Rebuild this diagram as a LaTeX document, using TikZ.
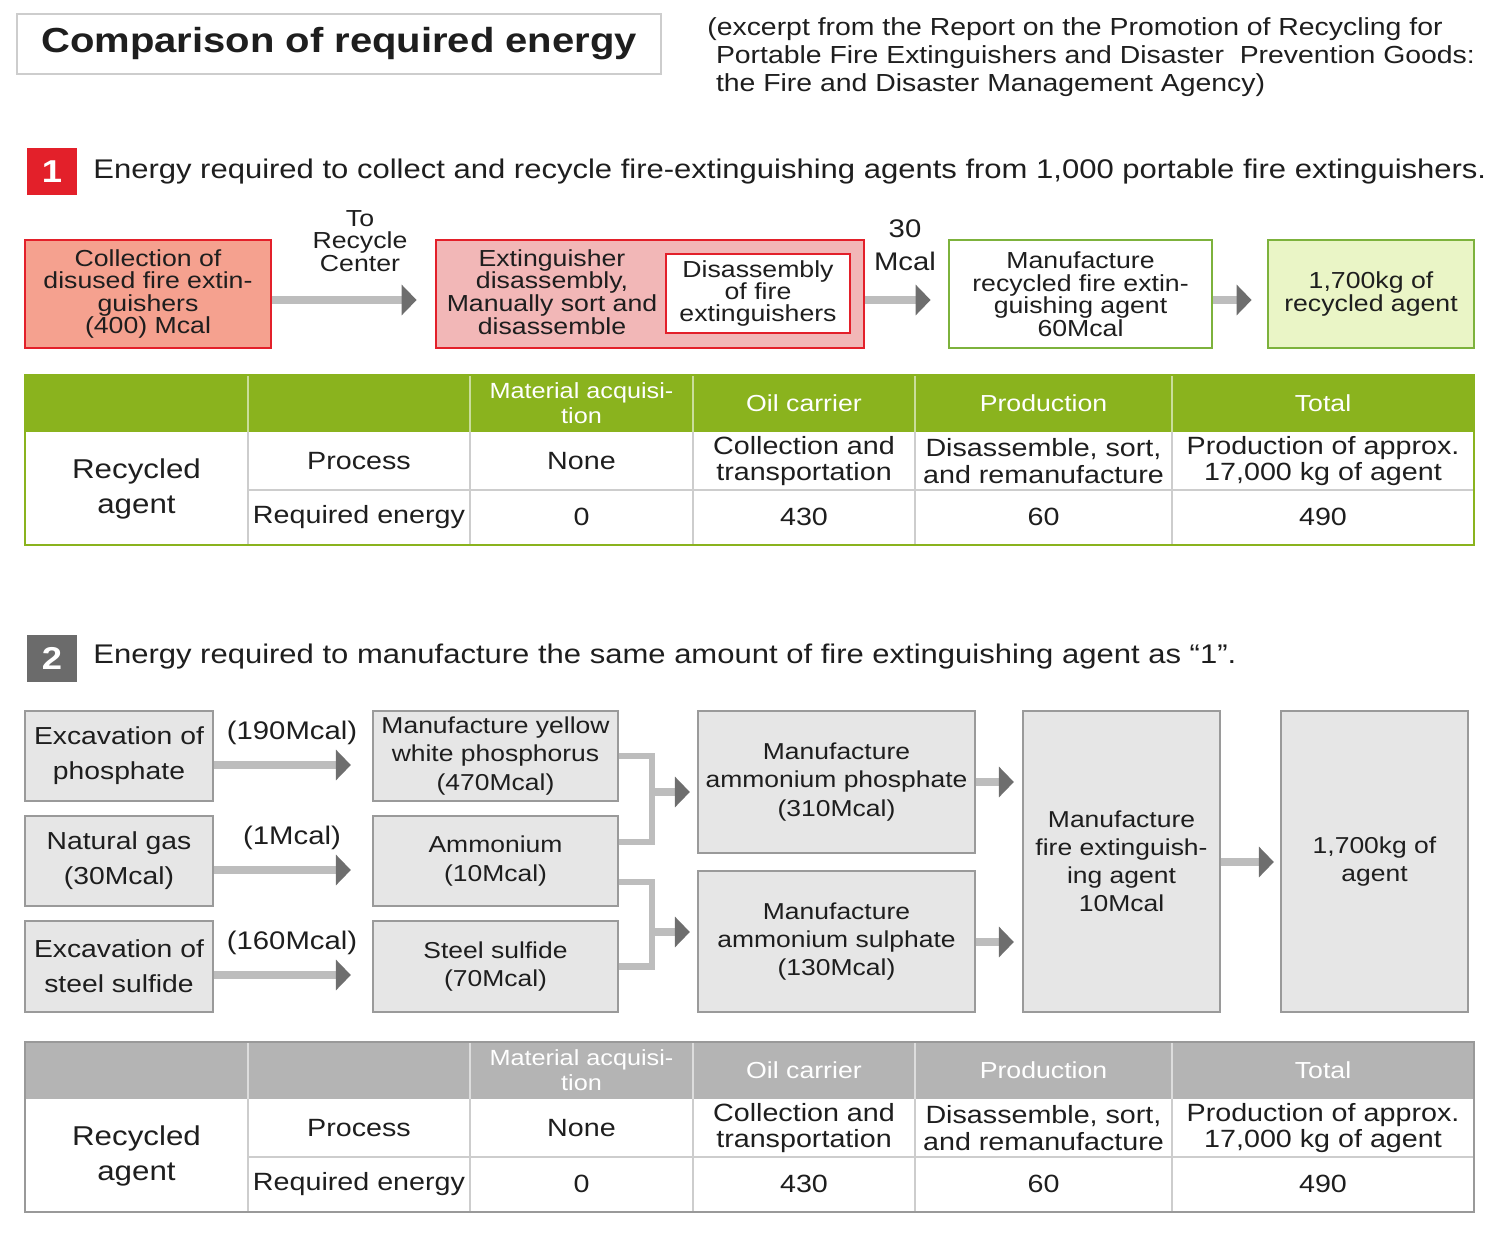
\documentclass[tikz,border=0pt]{standalone}
\usepackage{fontspec}
\setmainfont{Liberation Sans}[FakeStretch=1.15]
\usetikzlibrary{arrows.meta}

\definecolor{inkDark}{HTML}{1E1E1E}
\definecolor{extRed}{HTML}{E3202A}
\definecolor{extSalmon}{HTML}{F5A18F}
\definecolor{extPink}{HTML}{F2B7B7}
\definecolor{extGreen}{HTML}{7DB23C}
\definecolor{extLime}{HTML}{EAF5C6}
\definecolor{tabGreen}{HTML}{8AB31E}
\definecolor{boxGray}{HTML}{E6E6E6}
\definecolor{edgeGray}{HTML}{9A9A9A}
\definecolor{headGray}{HTML}{B4B4B4}
\definecolor{shaftGray}{HTML}{BDBDBD}
\definecolor{tipGray}{HTML}{6E6E6E}
\definecolor{ruleGray}{HTML}{CDCDCD}
\definecolor{numGray}{HTML}{6B6B6B}

\newcommand{\setfs}[2]{\fontsize{#1}{#2}\selectfont}

% one energy table: name prefix, top edge, header colour, frame colour
\newcommand{\energytable}[4]{%
  \begin{scope}[shift={(0,#2)}]
    % header band
    \fill[#3] (25,0) rectangle (1474,57);
    % column rules
    \foreach \cx in {248,470,693,915,1172} {
      \draw[white!55!#3, line width=0.7pt] (\cx,0) -- (\cx,57);
      \draw[ruleGray, line width=0.8pt] (\cx,57) -- (\cx,170);
    }
    \draw[ruleGray, line width=0.8pt] (248,115) -- (1474,115);
    % frame
    \draw[#4, line width=1.6pt] (25,0) rectangle (1474,170);
    % header texts
    \node[tabhead, font=\setfs{12.5}{14.5}] (#1mat) at (581.5,28) {Material acquisi-\\tion};
    \node[tabhead] (#1oil) at (804,28) {Oil carrier};
    \node[tabhead] (#1prod) at (1043.5,28) {Production};
    \node[tabhead] (#1tot) at (1323,28) {Total};
    % body texts
    \node[tabcell, font=\setfs{15.5}{19.5}] (#1agent) at (136.5,114) {Recycled\\agent};
    \node[tabcell] (#1proc) at (359,86) {Process};
    \node[tabcell] (#1none) at (581.5,86) {None};
    \node[tabcell] (#1coll) at (804,86) {Collection and\\transportation};
    \node[tabcell] (#1dis) at (1043.5,86) {Disassemble, sort,\\and remanufacture};
    \node[tabcell] (#1appr) at (1323,86) {Production of approx.\\17,000 kg of agent};
    \node[tabcell] (#1req) at (359,142) {Required energy};
    \node[tabcell] (#1zero) at (581.5,142) {0};
    \node[tabcell] (#1oilv) at (804,142) {430};
    \node[tabcell] (#1prodv) at (1043.5,142) {60};
    \node[tabcell] (#1totv) at (1323,142) {490};
  \end{scope}}

\begin{document}
\begin{tikzpicture}[x=0.02cm, y=-0.02cm,
  every node/.style={text=inkDark, inner sep=0pt},
  boxsize/.style 2 args={minimum width=#1*0.02cm, minimum height=#2*0.02cm},
  redbox/.style={draw=extRed, line width=1.6pt, align=center, font=\setfs{13.2}{12.8}},
  greenbox/.style={draw=extGreen, line width=1.6pt, align=center, font=\setfs{13.2}{12.8}},
  graybox/.style={draw=edgeGray, fill=boxGray, line width=1.3pt, align=center, font=\setfs{13.1}{16}},
  flow/.style={draw=shaftGray, line width=4.5pt, -{Triangle[length=8.5pt, width=17pt, color=tipGray]}},
  pipe/.style={draw=shaftGray, line width=3.6pt},
  tabhead/.style={text=white, align=center, font=\setfs{13.2}{14.5}},
  tabcell/.style={align=center, font=\setfs{14.2}{15.2}},
  numsq/.style={minimum width=50*0.02cm, minimum height=47*0.02cm, text=white, font=\bfseries\setfs{18}{18}},
  caption/.style={align=center, font=\setfs{13.2}{13}}]
\useasboundingbox (0,0) rectangle (1500,1240);

% Title and source
\node[draw=ruleGray, line width=1.1pt, boxsize={644}{60}, font=\bfseries\setfs{19.8}{22}] (title) at (339,44) {Comparison of required energy};
\node[anchor=north west, align=left, font=\setfs{14.05}{15.9}] (source) at (707,17)
  {(excerpt from the Report on the Promotion of Recycling for\\
   \hspace*{0.35em}Portable Fire Extinguishers and Disaster\ \ Prevention Goods:\\
   \hspace*{0.35em}the Fire and Disaster Management Agency)};

% Section 1
\node[numsq, fill=extRed] (numA) at (52,171.5) {1};
\node[anchor=west, font=\setfs{15.35}{17}] (headA) at (93,172) {Energy required to collect and recycle fire-extinguishing agents from 1,000 portable fire extinguishers.};

\node[redbox, fill=extSalmon, boxsize={246}{108}] (collect) at (148,294)
  {Collection of\\disused fire extin-\\guishers\\(400) Mcal};
\node[redbox, fill=extPink, boxsize={428}{108}] (sortBox) at (650,294) {};
\node[align=center, font=\setfs{13.2}{13}] (sortText) at (552,292)
  {Extinguisher\\disassembly,\\Manually sort and\\disassemble};
\node[redbox, fill=white, boxsize={184}{79}] (disBox) at (758,293.5)
  {Disassembly\\of fire\\extinguishers};
\node[greenbox, fill=white, boxsize={263}{108}] (remake) at (1080.5,294)
  {Manufacture\\recycled fire extin-\\guishing agent\\60Mcal};
\node[greenbox, fill=extLime, boxsize={206}{108}] (recAgent) at (1371,294)
  {1,700kg of\\recycled agent};

\coordinate (rowA) at (0,300);
\draw[flow, shorten >=0.36cm] (collect.east |- rowA) -- (sortBox.west |- rowA);
\draw[flow, shorten >=0.34cm] (sortBox.east |- rowA) -- (remake.west |- rowA);
\draw[flow, shorten >=0.30cm] (remake.east |- rowA) -- (recAgent.west |- rowA);
\node[caption] (toCenter) at (360,241) {To\\Recycle\\Center};
\node[align=center, font=\setfs{14.5}{18.8}] (thirty) at (905,245) {30\\Mcal};

\energytable{ta}{375}{tabGreen}{tabGreen}

% Section 2
\node[numsq, fill=numGray] (numB) at (52,658) {2};
\node[anchor=west, font=\setfs{15.35}{17}] (headB) at (93,657) {Energy required to manufacture the same amount of fire extinguishing agent as “1”.};

\node[graybox, boxsize={188}{90}, font=\setfs{14}{19.8}] (phosEx) at (119,756) {Excavation of\\phosphate};
\node[graybox, boxsize={188}{90}, font=\setfs{14}{19.8}] (natGas) at (119,861) {Natural gas\\(30Mcal)};
\node[graybox, boxsize={188}{91}, font=\setfs{14}{19.8}] (steelEx) at (119,966.5) {Excavation of\\steel sulfide};

\node[graybox, boxsize={245}{90}] (yellowP) at (495.5,756) {Manufacture yellow\\white phosphorus\\(470Mcal)};
\node[graybox, boxsize={245}{90}] (ammonium) at (495.5,861) {Ammonium\\(10Mcal)};
\node[graybox, boxsize={245}{91}] (steelS) at (495.5,966.5) {Steel sulfide\\(70Mcal)};

\node[graybox, boxsize={277}{142}] (amPhos) at (836.5,782) {Manufacture\\ammonium phosphate\\(310Mcal)};
\node[graybox, boxsize={277}{141}] (amSulph) at (836.5,941.5) {Manufacture\\ammonium sulphate\\(130Mcal)};
\node[graybox, boxsize={197}{301}] (agentMfg) at (1121.5,861.5) {Manufacture\\fire extinguish-\\ing agent\\10Mcal};
\node[graybox, boxsize={187}{301}] (agentOut) at (1374.5,861.5) {1,700kg of\\agent};

\coordinate (lvA) at (0,765);
\coordinate (lvB) at (0,870);
\coordinate (lvC) at (0,975);
\draw[flow, shorten >=0.42cm] (phosEx.east |- lvA) -- (yellowP.west |- lvA);
\draw[flow, shorten >=0.42cm] (natGas.east |- lvB) -- (ammonium.west |- lvB);
\draw[flow, shorten >=0.42cm] (steelEx.east |- lvC) -- (steelS.west |- lvC);
\node[font=\setfs{14.5}{16}] (mcalA) at (292,733) {(190Mcal)};
\node[font=\setfs{14.5}{16}] (mcalB) at (292,838) {(1Mcal)};
\node[font=\setfs{14.5}{16}] (mcalC) at (292,943) {(160Mcal)};

% brackets joining into the ammonium salts
\coordinate (jnA) at (652,792);
\coordinate (jnB) at (652,932);
\draw[pipe] (yellowP.east) -| (jnA) |- ([yshift=0.38cm]ammonium.east);
\draw[pipe] ([yshift=-0.42cm]ammonium.east) -| (jnB) |- (steelS.east);
\draw[flow, shorten >=0.14cm] (jnA) -- (amPhos.west |- jnA);
\draw[flow, shorten >=0.14cm] (jnB) -- (amSulph.west |- jnB);

\coordinate (lvD) at (0,782);
\coordinate (lvE) at (0,942);
\coordinate (lvF) at (0,862);
\draw[flow, shorten >=0.16cm] (amPhos.east |- lvD) -- (agentMfg.west |- lvD);
\draw[flow, shorten >=0.16cm] (amSulph.east |- lvE) -- (agentMfg.west |- lvE);
\draw[flow, shorten >=0.12cm] (agentMfg.east |- lvF) -- (agentOut.west |- lvF);

\energytable{tb}{1042}{headGray}{headGray!85!black}
\end{tikzpicture}
\end{document}
